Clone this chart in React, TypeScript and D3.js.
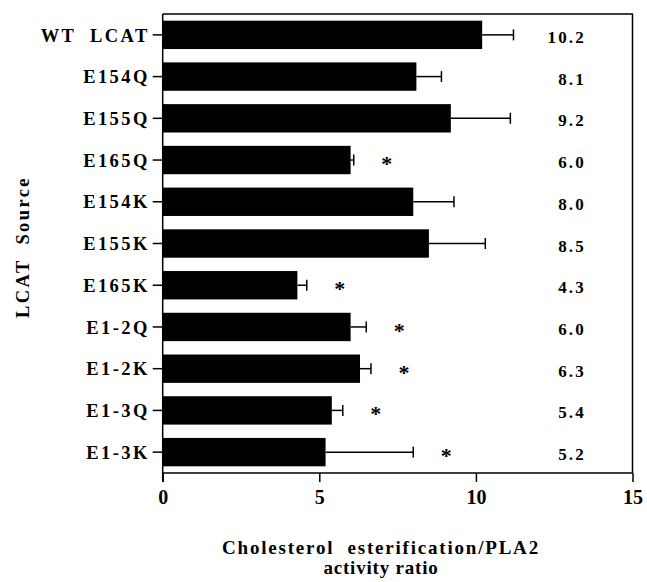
import React, { useEffect, useRef } from 'react';
import * as d3 from 'd3';

// values
const sources = ['WT LCAT', 'E154Q', 'E155Q', 'E165Q', 'E154K', 'E155K', 'E165K', 'E1-2Q', 'E1-2K', 'E1-3Q', 'E1-3K'];
const ratios = [10.2, 8.1, 9.2, 6.0, 8.0, 8.5, 4.3, 6.0, 6.3, 5.4, 5.2];
const errors = [1.0, 0.8, 1.9, 0.1, 1.3, 1.8, 0.3, 0.5, 0.35, 0.35, 2.8];
const significant = [false, false, false, true, false, false, true, true, true, true, true];
const xTicks = [0, 5, 10, 15];

const App = () => {
  const ref = useRef<SVGSVGElement>(null);

  useEffect(() => {
    const width = 647;
    const height = 582;
    const left = 162.7;
    const right = 632.5;
    const top = 14;
    const bottom = 473;
    const font = '"Liberation Serif", "Times New Roman", serif';

    const svg = d3.select(ref.current);
    svg.selectAll('*').remove();
    svg.attr('width', width).attr('height', height);

    const x = d3.scaleLinear().domain([0, 15]).range([left, right]);
    const y = d3.scaleBand<string>()
      .domain(sources)
      .range([top, bottom])
      .paddingInner(0.32)
      .paddingOuter(0.16);

    const data = sources.map((s, i) => ({
      source: s,
      value: ratios[i],
      err: errors[i],
      sig: significant[i],
    }));

    // frame (top and right)
    svg.append('path')
      .attr('d', `M${left},${top}H${right}V${bottom}`)
      .attr('fill', 'none')
      .attr('stroke', '#000')
      .attr('stroke-width', 1.5);

    // bars
    svg.append('g')
      .selectAll('rect')
      .data(data)
      .enter()
      .append('rect')
      .attr('x', x(0))
      .attr('y', d => y(d.source)!)
      .attr('width', d => x(d.value) - x(0))
      .attr('height', y.bandwidth())
      .attr('fill', '#000');

    // error bars
    const eb = svg.append('g').attr('stroke', '#000').attr('stroke-width', 1.5);
    data.forEach(d => {
      const cy = y(d.source)! + y.bandwidth() / 2;
      eb.append('line')
        .attr('x1', x(d.value)).attr('x2', x(d.value + d.err))
        .attr('y1', cy).attr('y2', cy);
      eb.append('line')
        .attr('x1', x(d.value + d.err)).attr('x2', x(d.value + d.err))
        .attr('y1', cy - 5.5).attr('y2', cy + 5.5);
    });

    // asterisks
    svg.append('g')
      .selectAll('text')
      .data(data.filter(d => d.sig))
      .enter()
      .append('text')
      .attr('x', d => x(d.value + d.err) + 33)
      .attr('y', d => y(d.source)! + y.bandwidth() / 2 + 11)
      .attr('text-anchor', 'middle')
      .style('font-family', font)
      .style('font-weight', 'bold')
      .style('font-size', '22px')
      .text('*');

    // value labels
    svg.append('g')
      .selectAll('text')
      .data(data)
      .enter()
      .append('text')
      .attr('x', 586)
      .attr('y', d => y(d.source)! + y.bandwidth() / 2 + 8)
      .attr('text-anchor', 'end')
      .style('font-family', font)
      .style('font-weight', 'bold')
      .style('font-size', '17px')
      .style('letter-spacing', '2.2px')
      .text(d => d.value.toFixed(1));

    // y axis
    const yAxis = svg.append('g')
      .attr('transform', `translate(${left},0)`)
      .call(d3.axisLeft(y).tickSize(10).tickPadding(3));
    yAxis.select('.domain').remove();
    yAxis.append('line')
      .attr('x1', 0).attr('x2', 0)
      .attr('y1', top).attr('y2', bottom + 9)
      .attr('stroke', '#000').attr('stroke-width', 1.5);
    yAxis.selectAll('.tick line').attr('stroke-width', 1.5);
    yAxis.selectAll('.tick text')
      .style('font-family', font)
      .style('font-weight', 'bold')
      .style('font-size', '18.5px')
      .style('letter-spacing', '2.4px')
      .style('white-space', 'pre')
      .attr('dy', '0.36em')
      .attr('fill', '#000')
      .text(d => (d === 'WT LCAT' ? 'WT  LCAT' : (d as string)));

    // x axis
    const xAxis = svg.append('g')
      .attr('transform', `translate(0,${bottom})`)
      .call(d3.axisBottom(x).tickValues(xTicks).tickSize(9).tickPadding(8).tickFormat(d3.format('d')));
    xAxis.select('.domain')
      .attr('d', `M${left},0H${right}`)
      .attr('stroke-width', 1.5);
    xAxis.selectAll('.tick line').attr('stroke-width', 1.5);
    xAxis.selectAll('.tick text')
      .style('font-family', font)
      .style('font-weight', 'bold')
      .style('font-size', '20px')
      .attr('fill', '#000');

    // axis titles
    const xTitle = svg.append('text')
      .attr('text-anchor', 'middle')
      .style('font-family', font)
      .style('font-weight', 'bold')
      .style('font-size', '19px')
      .style('white-space', 'pre');
    xTitle.append('tspan').attr('x', 381).attr('y', 554)
      .style('letter-spacing', '1.8px')
      .text('Cholesterol  esterification/PLA2');
    xTitle.append('tspan').attr('x', 381).attr('y', 574)
      .style('letter-spacing', '0.8px')
      .text('activity ratio');

    svg.append('text')
      .attr('transform', 'translate(29,247) rotate(-90)')
      .attr('text-anchor', 'middle')
      .style('font-family', font)
      .style('font-weight', 'bold')
      .style('font-size', '18.5px')
      .style('letter-spacing', '2.4px')
      .style('white-space', 'pre')
      .text('LCAT  Source');
  }, []);

  return (
    <svg ref={ref} style={{ position: 'absolute', left: 0, top: 0, background: '#fff' }} />
  );
};

export default App;
